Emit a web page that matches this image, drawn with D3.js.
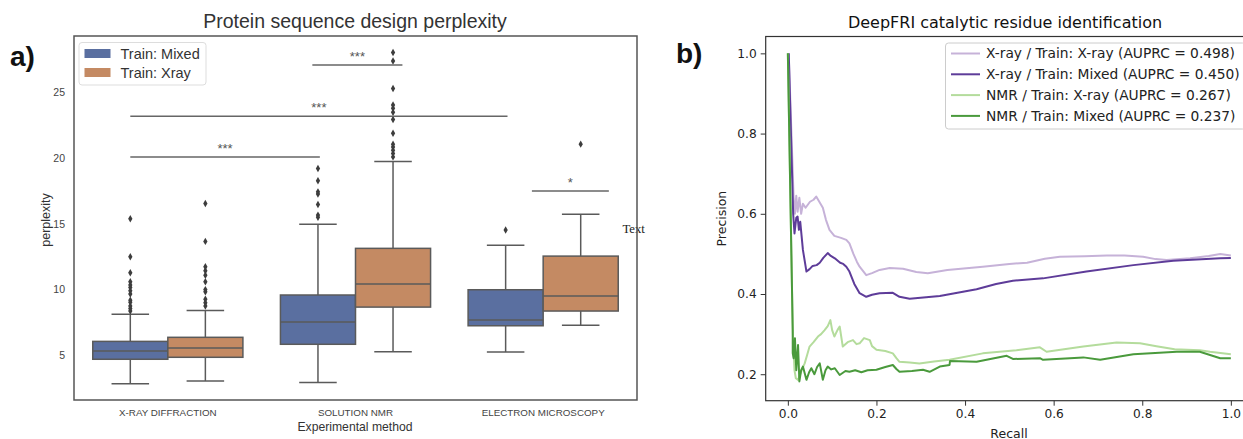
<!DOCTYPE html>
<html>
<head>
<meta charset="utf-8">
<style>
  body { margin: 0; background: #fff; }
  svg { display: block; }
</style>
</head>
<body>
<div id="chart"></div>
<script src="https://d3js.org/d3.v7.min.js"></script>
<script>
// ---- panel a) data ----
const methods = ["X-RAY DIFFRACTION", "SOLUTION NMR", "ELECTRON MICROSCOPY"];
const trainSets = ["Train: Mixed", "Train: Xray"];
// [low whisker, q1, median, q3, high whisker] per method, per training set
const boxMixed = [[2.84, 4.7, 5.33, 6.06, 8.12], [2.93, 5.84, 7.53, 9.59, 14.98], [5.25, 7.25, 7.68, 9.99, 13.37]];
const boxXray  = [[3.05, 4.85, 5.55, 6.37, 8.42], [5.27, 8.67, 10.42, 13.14, 19.75], [7.28, 8.37, 9.51, 12.55, 15.74]];
const outMixed = [
  [15.4, 12.5, 11.28, 10.6, 10.35, 10.17, 9.91, 9.66, 9.2, 9.03, 8.75, 8.57, 8.37],
  [19.22, 18.28, 17.44, 17.27, 16.48, 15.67, 15.5],
  [14.53]
];
const outXray = [
  [16.56, 13.67, 11.74, 11.43, 11.1, 10.6, 10.0, 9.84, 9.26, 9.0, 8.75],
  [28.05, 27.4, 25.3, 24.05, 23.8, 23.5, 22.95, 21.9, 21.07, 20.86, 20.6, 20.36, 20.1],
  [21.07]
];
// significance bars: x in category units, y in perplexity
const sigFrom  = [-0.2, -0.2, 0.77, 1.94];
const sigTo    = [0.81, 1.81, 1.25, 2.35];
const sigLevel = [20.1, 23.2, 27.1, 17.5];
const sigText  = ["***", "***", "***", "*"];
const yTicksA = [5, 10, 15, 20, 25];

// ---- panel b) data: [recall, precision] ----
const prLabels = [
  "X-ray / Train: X-ray (AUPRC = 0.498)",
  "X-ray / Train: Mixed (AUPRC = 0.450)",
  "NMR / Train: X-ray (AUPRC = 0.267)",
  "NMR / Train: Mixed (AUPRC = 0.237)"
];
const prXrayXray = [[0.002,1.0],[0.013,0.64],[0.016,0.60],[0.019,0.645],[0.022,0.605],[0.026,0.64],[0.03,0.60],[0.034,0.625],[0.04,0.615],[0.05,0.63],[0.058,0.635],[0.064,0.643],[0.07,0.632],[0.079,0.615],[0.086,0.585],[0.094,0.56],[0.105,0.545],[0.12,0.54],[0.132,0.535],[0.139,0.526],[0.148,0.50],[0.156,0.48],[0.162,0.468],[0.177,0.447],[0.19,0.452],[0.207,0.46],[0.23,0.465],[0.26,0.463],[0.29,0.455],[0.316,0.452],[0.36,0.46],[0.44,0.468],[0.50,0.475],[0.54,0.478],[0.58,0.488],[0.614,0.493],[0.67,0.494],[0.72,0.496],[0.76,0.496],[0.802,0.493],[0.83,0.487],[0.855,0.485],[0.908,0.489],[0.95,0.495],[0.976,0.5],[1.0,0.496]];
const prXrayMixed = [[0.002,1.0],[0.012,0.60],[0.015,0.551],[0.019,0.59],[0.022,0.593],[0.025,0.56],[0.028,0.58],[0.034,0.51],[0.042,0.456],[0.049,0.462],[0.056,0.47],[0.065,0.472],[0.072,0.478],[0.08,0.49],[0.09,0.502],[0.097,0.495],[0.106,0.489],[0.118,0.478],[0.125,0.475],[0.132,0.468],[0.139,0.456],[0.15,0.425],[0.162,0.402],[0.177,0.393],[0.19,0.398],[0.207,0.402],[0.237,0.403],[0.252,0.393],[0.275,0.388],[0.343,0.395],[0.426,0.412],[0.47,0.425],[0.508,0.433],[0.576,0.439],[0.674,0.456],[0.78,0.472],[0.87,0.483],[0.976,0.489],[1.0,0.49]];
const prNmrXray = [[0.0,1.0],[0.011,0.31],[0.015,0.21],[0.018,0.19],[0.023,0.186],[0.028,0.20],[0.033,0.215],[0.038,0.227],[0.044,0.25],[0.049,0.269],[0.058,0.28],[0.068,0.294],[0.075,0.30],[0.083,0.31],[0.09,0.32],[0.096,0.335],[0.1,0.31],[0.105,0.294],[0.112,0.31],[0.117,0.319],[0.124,0.269],[0.135,0.28],[0.147,0.285],[0.155,0.275],[0.162,0.277],[0.172,0.29],[0.185,0.285],[0.19,0.27],[0.2,0.261],[0.22,0.258],[0.237,0.252],[0.245,0.24],[0.252,0.231],[0.275,0.229],[0.297,0.227],[0.33,0.232],[0.365,0.236],[0.44,0.252],[0.516,0.26],[0.569,0.267],[0.584,0.256],[0.667,0.269],[0.742,0.279],[0.795,0.277],[0.832,0.27],[0.873,0.262],[0.93,0.26],[0.953,0.256],[1.0,0.25]];
const prNmrMixed = [[0.0,1.0],[0.011,0.31],[0.011,0.253],[0.013,0.24],[0.016,0.29],[0.019,0.21],[0.023,0.273],[0.026,0.182],[0.03,0.21],[0.034,0.219],[0.042,0.186],[0.048,0.205],[0.053,0.215],[0.06,0.2],[0.066,0.218],[0.072,0.227],[0.079,0.186],[0.085,0.21],[0.09,0.219],[0.098,0.212],[0.106,0.215],[0.117,0.198],[0.13,0.208],[0.139,0.206],[0.152,0.21],[0.166,0.205],[0.18,0.21],[0.2,0.211],[0.22,0.218],[0.237,0.223],[0.245,0.213],[0.252,0.206],[0.28,0.208],[0.305,0.211],[0.32,0.206],[0.343,0.219],[0.365,0.223],[0.366,0.233],[0.426,0.231],[0.494,0.246],[0.508,0.238],[0.569,0.24],[0.576,0.236],[0.667,0.242],[0.705,0.236],[0.78,0.25],[0.878,0.256],[0.93,0.256],[0.953,0.248],[0.976,0.24],[1.0,0.24]];
const xTicksB = [0, 0.2, 0.4, 0.6, 0.8, 1.0];
const yTicksB = [0.2, 0.4, 0.6, 0.8, 1.0];

const svg = d3.select("#chart").append("svg")
    .attr("width", 1243)
    .attr("height", 439);

// ================= panel a) =================
const sansA = "'Liberation Sans', Arial, sans-serif";
const boxColors = ["#5a6fa0", "#c48a63"];
const lineGray = "#5a5a5a";

const xBand = d3.scaleBand().domain(methods).range([74, 637]).paddingInner(0);
const xHue = d3.scaleBand().domain(trainSets)
    .range([xBand.bandwidth() * 0.1, xBand.bandwidth() * 0.9]);
const xUnit = d3.scaleLinear().domain([-0.5, 2.5]).range([74, 637]);
const yA = d3.scaleLinear().domain([1.6, 29.3]).range([400, 36]);

const gA = svg.append("g");

gA.append("text")
    .attr("x", 355).attr("y", 28)
    .attr("text-anchor", "middle")
    .style("font-family", sansA).style("font-size", "19.5px").style("fill", "#333")
    .text("Protein sequence design perplexity");

gA.append("text")
    .attr("x", 10).attr("y", 66)
    .style("font-family", sansA).style("font-size", "28px").style("font-weight", "bold").style("fill", "#111")
    .text("a)");

// y axis labels (no tick marks)
const yAxisA = d3.axisLeft(yA).tickValues(yTicksA).tickSize(0).tickPadding(9);
gA.append("g").attr("transform", "translate(74,0)").call(yAxisA)
    .call(g => g.select(".domain").remove())
    .selectAll("text").style("font-family", sansA).style("font-size", "10.5px").style("fill", "#444");

const xAxisA = d3.axisBottom(xBand).tickSize(0).tickPadding(9);
gA.append("g").attr("transform", "translate(0,400)").call(xAxisA)
    .call(g => g.select(".domain").remove())
    .selectAll("text").style("font-family", sansA).style("font-size", "9.8px").style("fill", "#444");

gA.append("text")
    .attr("x", 355).attr("y", 431)
    .attr("text-anchor", "middle")
    .style("font-family", sansA).style("font-size", "12.2px").style("fill", "#333")
    .text("Experimental method");

gA.append("text")
    .attr("transform", "translate(50,220) rotate(-90)")
    .attr("text-anchor", "middle")
    .style("font-family", sansA).style("font-size", "12.5px").style("fill", "#333")
    .text("perplexity");

// boxes
const boxSets = [boxMixed, boxXray];
const outSets = [outMixed, outXray];
const bw = xHue.bandwidth();
trainSets.forEach((ts, h) => {
  methods.forEach((m, i) => {
    const [lo, q1, med, q3, hi] = boxSets[h][i];
    const x0 = xBand(m) + xHue(ts);
    const cx = x0 + bw / 2;
    const g = gA.append("g");
    g.append("line").attr("x1", cx).attr("x2", cx).attr("y1", yA(q1)).attr("y2", yA(lo))
        .attr("stroke", lineGray).attr("stroke-width", 1.5);
    g.append("line").attr("x1", cx).attr("x2", cx).attr("y1", yA(q3)).attr("y2", yA(hi))
        .attr("stroke", lineGray).attr("stroke-width", 1.5);
    [lo, hi].forEach(v => {
      g.append("line").attr("x1", cx - bw / 4).attr("x2", cx + bw / 4)
          .attr("y1", yA(v)).attr("y2", yA(v))
          .attr("stroke", lineGray).attr("stroke-width", 1.5);
    });
    g.append("rect")
        .attr("x", x0).attr("y", yA(q3))
        .attr("width", bw).attr("height", yA(q1) - yA(q3))
        .attr("fill", boxColors[h]).attr("stroke", lineGray).attr("stroke-width", 1.5);
    g.append("line").attr("x1", x0).attr("x2", x0 + bw).attr("y1", yA(med)).attr("y2", yA(med))
        .attr("stroke", lineGray).attr("stroke-width", 1.5);
    g.selectAll("path.flier").data(outSets[h][i]).enter().append("path")
        .attr("class", "flier")
        .attr("d", d3.symbol(d3.symbolDiamond, 16))
        .attr("transform", d => `translate(${cx},${yA(d)})`)
        .attr("fill", "#3d3d3d");
  });
});

// significance bars
sigText.forEach((t, i) => {
  const x1 = xUnit(sigFrom[i]), x2 = xUnit(sigTo[i]);
  gA.append("line").attr("x1", x1).attr("x2", x2)
      .attr("y1", yA(sigLevel[i])).attr("y2", yA(sigLevel[i]))
      .attr("stroke", "#666").attr("stroke-width", 1.5);
  gA.append("text")
      .attr("x", (x1 + x2) / 2).attr("y", yA(sigLevel[i]) - 4)
      .attr("text-anchor", "middle")
      .style("font-family", sansA).style("font-size", "13px").style("fill", "#555")
      .text(t);
});

gA.append("text")
    .attr("x", 622.5).attr("y", 233)
    .style("font-family", "'Liberation Serif', 'Times New Roman', serif").style("font-size", "12.7px").style("fill", "#222")
    .text("Text");

// frame
gA.append("rect").attr("x", 74).attr("y", 36).attr("width", 563).attr("height", 364)
    .attr("fill", "none").attr("stroke", "#555").attr("stroke-width", 1.5);

// legend
const legA = gA.append("g");
legA.append("rect").attr("x", 79).attr("y", 42.5).attr("width", 127).attr("height", 42.5)
    .attr("rx", 3).attr("fill", "#fff").attr("stroke", "#ddd").attr("stroke-width", 1);
trainSets.forEach((ts, i) => {
  const cy = 53.5 + i * 19;
  legA.append("rect").attr("x", 84.5).attr("y", cy - 4.5).attr("width", 26).attr("height", 9)
      .attr("fill", boxColors[i]);
  legA.append("text").attr("x", 120.5).attr("y", cy).attr("dy", "0.35em")
      .style("font-family", sansA).style("font-size", "14.5px").style("fill", "#333")
      .text(ts);
});

// ================= panel b) =================
const sansB = "'DejaVu Sans', sans-serif";
const prColors = ["#c6b2d8", "#5e3c99", "#b4dc9c", "#4a9a3c"];
const prSeries = [prXrayXray, prXrayMixed, prNmrXray, prNmrMixed];

const xB = d3.scaleLinear().domain([-0.05, 1.05]).range([765.7, 1253]);
const yB = d3.scaleLinear().domain([0.134, 1.042]).range([400.7, 36.5]);

const gB = svg.append("g");

gB.append("text")
    .attr("x", 1005).attr("y", 28)
    .attr("text-anchor", "middle")
    .style("font-family", sansB).style("font-size", "16px").style("fill", "#111")
    .text("DeepFRI catalytic residue identification");

gB.append("text")
    .attr("x", 676).attr("y", 63)
    .style("font-family", sansA).style("font-size", "28px").style("font-weight", "bold").style("fill", "#111")
    .text("b)");

const line = d3.line().x(d => xB(d[0])).y(d => yB(d[1]));
prSeries.forEach((s, i) => {
  gB.append("path").datum(s)
      .attr("d", line)
      .attr("fill", "none")
      .attr("stroke", prColors[i])
      .attr("stroke-width", 2)
      .attr("stroke-linejoin", "round");
});

const xAxisB = d3.axisBottom(xB).tickValues(xTicksB).tickFormat(d3.format(".1f")).tickSize(5).tickPadding(4);
gB.append("g").attr("transform", "translate(0,400.7)").call(xAxisB)
    .call(g => g.select(".domain").remove())
    .call(g => g.selectAll("line").attr("stroke", "#333"))
    .selectAll("text").style("font-family", sansB).style("font-size", "12.2px").style("fill", "#222");

const yAxisB = d3.axisLeft(yB).tickValues(yTicksB).tickFormat(d3.format(".1f")).tickSize(5).tickPadding(4);
gB.append("g").attr("transform", "translate(765.7,0)").call(yAxisB)
    .call(g => g.select(".domain").remove())
    .call(g => g.selectAll("line").attr("stroke", "#333"))
    .selectAll("text").style("font-family", sansB).style("font-size", "12.2px").style("fill", "#222");

gB.append("rect").attr("x", 765.7).attr("y", 36.5).attr("width", 1253 - 765.7).attr("height", 364.2)
    .attr("fill", "none").attr("stroke", "#333").attr("stroke-width", 1.2);

gB.append("text")
    .attr("transform", "translate(726,218.6) rotate(-90)")
    .attr("text-anchor", "middle")
    .style("font-family", sansB).style("font-size", "12.5px").style("fill", "#222")
    .text("Precision");

gB.append("text")
    .attr("x", 1009).attr("y", 437.5)
    .attr("text-anchor", "middle")
    .style("font-family", sansB).style("font-size", "12.5px").style("fill", "#222")
    .text("Recall");

// legend
const legB = gB.append("g");
legB.append("rect").attr("x", 945.5).attr("y", 43).attr("width", 300).attr("height", 86)
    .attr("rx", 3).attr("fill", "#fff").attr("fill-opacity", 0.8).attr("stroke", "#ccc").attr("stroke-width", 1);
prLabels.forEach((lab, i) => {
  const cy = 53.5 + i * 20.8;
  legB.append("line").attr("x1", 951).attr("x2", 980).attr("y1", cy).attr("y2", cy)
      .attr("stroke", prColors[i]).attr("stroke-width", 2);
  legB.append("text").attr("x", 986).attr("y", cy).attr("dy", "0.35em")
      .style("font-family", sansB).style("font-size", "13.8px").style("fill", "#222")
      .text(lab);
});
</script>
</body>
</html>
